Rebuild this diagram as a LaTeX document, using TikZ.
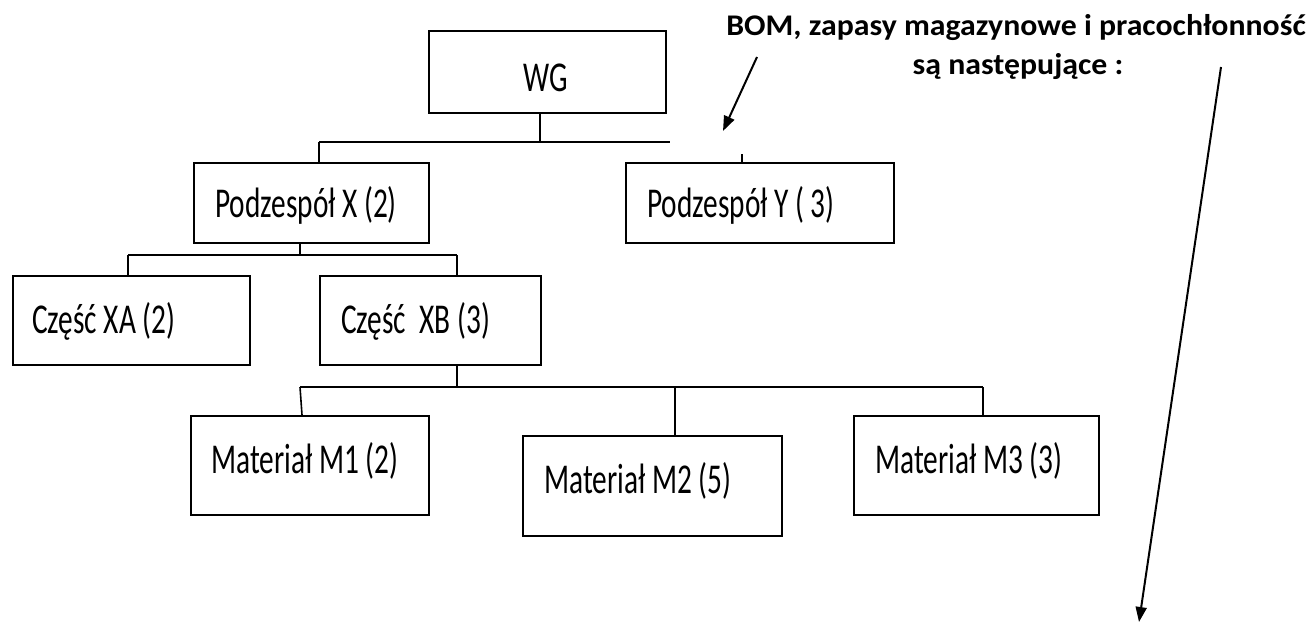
\documentclass[tikz,border=0pt]{standalone}
\usepackage{fontspec}
\usetikzlibrary{arrows.meta}
\newfontfamily\lblfont[FakeStretch=0.69]{Carlito}
\newfontfamily\ttlfont[FakeStretch=1.06]{Carlito}
\tikzset{
  box/.style={draw=black, line width=2pt, rectangle, inner sep=0pt, anchor=north west},
  lbl/.style={anchor=base west, inner sep=0pt, font=\lblfont\fontsize{42.5}{50}\selectfont},
  ttl/.style={anchor=base, inner sep=0pt, font=\ttlfont\bfseries\fontsize{30}{36}\selectfont},
  conn/.style={line width=1.6pt, black},
  arr/.style={line width=2pt, black, -{Triangle[length=15pt,width=11pt]}}
}
\begin{document}
\begin{tikzpicture}[x=1pt,y=-1pt]
\fill[white] (0,0) rectangle (1314,623);
\useasboundingbox (0,0) rectangle (1314,623);

% boxes
\node[box, minimum width=237pt, minimum height=82pt] (wg) at (428,30) {};
\node[box, minimum width=235pt, minimum height=80pt] (px) at (193,162) {};
\node[box, minimum width=268pt, minimum height=80pt] (py) at (625,162) {};
\node[box, minimum width=237pt, minimum height=89pt] (xa) at (12,275) {};
\node[box, minimum width=221pt, minimum height=89pt] (xb) at (319,275) {};
\node[box, minimum width=238pt, minimum height=99pt] (m1) at (190,415) {};
\node[box, minimum width=259pt, minimum height=100pt] (m2) at (522,435) {};
\node[box, minimum width=245pt, minimum height=99pt] (m3) at (853,415) {};

% texts
\node[inner sep=0pt, font=\lblfont\fontsize{42.5}{50}\selectfont] (wgT) at (546,78) {WG};
\node[lbl] (pxT) at (215,217) {Podzespół X (2)};
\node[lbl] (pyT) at (647,217) {Podzespół Y ( 3)};
\node[lbl] (xaT) at (32,333) {Część XA (2)};
\node[lbl] (xbT) at (341,333) {Część~~XB (3)};
\node[lbl] (m1T) at (211,473) {Materiał M1 (2)};
\node[lbl] (m2T) at (544,493) {Materiał M2 (5)};
\node[lbl] (m3T) at (875,473) {Materiał M3 (3)};

\node[ttl] (t1) at (1016,36) {BOM, zapasy magazynowe i pracochłonność};
\node[ttl] (t2) at (1018,75) {są następujące :};

% bus coordinates
\coordinate (b1s) at (540,142);
\coordinate (b1L) at (319,142);
\coordinate (b1R) at (670,142);
\coordinate (pyTick) at (742,154);
\coordinate (b2s) at (300,255);
\coordinate (b2L) at (128,255);
\coordinate (b2R) at (457,255);
\coordinate (b3s) at (457,387);
\coordinate (b3L) at (300,387);
\coordinate (b3M) at (675,387);
\coordinate (b3R) at (983,387);

% connectors level 1
\draw[conn] (b1s|-wg.south) -- (b1s);
\draw[conn] (b1L) -- (b1R);
\draw[conn] (b1L) -- (b1L|-px.north);
\draw[conn] (pyTick) -- (pyTick|-py.north);
% level 2
\draw[conn] (b2s|-px.south) -- (b2s);
\draw[conn] (b2L) -- (b2R);
\draw[conn] (b2L) -- (b2L|-xa.north);
\draw[conn] (b2R) -- (b2R|-xb.north);
% level 3
\draw[conn] (b3s|-xb.south) -- (b3s);
\draw[conn] (b3L) -- (b3R);
\draw[conn] (b3L) -- ([xshift=2pt]b3L|-m1.north);
\draw[conn] (b3M) -- (b3M|-m2.north);
\draw[conn] (b3R) -- (b3R|-m3.north);

% arrows
\coordinate (a1s) at (757,57);
\coordinate (a1e) at (723,131);
\coordinate (a2s) at (1221,67);
\coordinate (a2e) at (1139,622);
\draw[arr] (a1s) -- (a1e);
\draw[arr] (a2s) -- (a2e);
\end{tikzpicture}
\end{document}
